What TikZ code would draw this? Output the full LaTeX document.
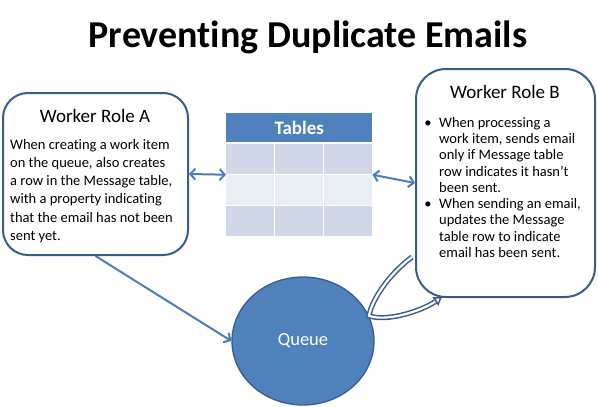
\documentclass[tikz,border=0pt]{standalone}
\usepackage{fontspec}
\setmainfont{Carlito}[Ligatures=NoCommon]
\usetikzlibrary{shapes.geometric}
\usetikzlibrary{arrows.meta}

\definecolor{boxline}{HTML}{385D8A}
\definecolor{linkblue}{HTML}{4A7EBB}
\definecolor{headblue}{HTML}{4F81BD}
\definecolor{rowdark}{HTML}{D0D8E8}
\definecolor{rowlight}{HTML}{E9EDF4}

\begin{document}
\begin{tikzpicture}[x=1pt,y=-1pt,
    rolebox/.style={draw=boxline, line width=2pt, fill=white, inner sep=0pt},
    rolehead/.style={font=\fontsize{19}{22}\selectfont, inner sep=0pt, anchor=base},
    link/.style={draw=linkblue, line width=2pt, >={Straight Barb[length=5pt,width=11pt]}}]
        \useasboundingbox (0,0) rectangle (598,407);
        \node[font=\bfseries\fontsize{38}{44}\selectfont, anchor=base, inner sep=0pt] (title) at (308,47) {Preventing Duplicate Emails};
        % worker boxes
        \node[rolebox, rounded corners=25pt, minimum width=185, minimum height=162] (roleA) at (95.5,174) {};
        \node[rolehead] (roleAhead) at (95,122) {Worker Role A};
        \node[align=left, inner sep=0pt, anchor=north west, font=\fontsize{14.5}{18.2}\selectfont] (roleAtext) at (10,139)
            {When creating a work item\\on the queue, also creates\\a row in the Message table,\\with a property indicating\\that the email has not been\\sent yet.};
        \node[rolebox, rounded corners=30pt, minimum width=179, minimum height=228] (roleB) at (505.5,183) {};
        \node[rolehead] (roleBhead) at (505,98) {Worker Role B};
        \node[align=left, inner sep=0pt, anchor=north west, font=\fontsize{14.5}{16.25}\selectfont] (roleBtext) at (439,117)
            {When processing a\\work item, sends email\\only if Message table\\row indicates it hasn't\\been sent.\\When sending an email,\\updates the Message\\table row to indicate\\email has been sent.};
        \node[anchor=base, inner sep=0pt, font=\fontsize{14.5}{16.25}\selectfont] (bulletone) at (428,127) {\textbullet};
        \node[anchor=base, inner sep=0pt, font=\fontsize{14.5}{16.25}\selectfont] (bullettwo) at (428,208.25) {\textbullet};
        % table
        \node[fill=headblue, text=white, font=\bfseries\fontsize{19}{22}\selectfont, minimum width=146, minimum height=29, anchor=north west, inner sep=0pt] (tblhead) at (226,113) {Tables};
        \foreach \r/\c in {0/rowdark,1/rowlight,2/rowdark}
            \foreach \k in {0,1,2}
                \fill[\c] (226+\k*49,143.5+\r*31) rectangle +(48,30);
        \node[inner sep=0pt, minimum width=146, minimum height=123, anchor=north west] (tables) at (226,113) {};
        % queue
        \node[ellipse, fill=headblue, draw=boxline, line width=1.3pt, minimum width=142, minimum height=128, inner sep=0pt, text=white, font=\fontsize{18.5}{22}\selectfont] (queue) at (303,341) {Queue};
        % links
        \draw[link,<->] (roleA.east) -- (tables.west);
        \draw[link,<->] (tables.east) -- (roleB.west);
        \draw[link,->] (roleA.south) -- (queue.west);
        \coordinate (loopstart) at (412,257);
        \coordinate (looptip) at (442,297);
        \draw[draw=boxline, line width=1.5pt, double=white, double distance=2.2pt, -{Triangle[open,length=8pt,width=10pt]}]
            (loopstart) .. controls (388,275) and (372,300) .. (queue.21)
            .. controls (385,322) and (420,312) .. (looptip);
    \end{tikzpicture}
\end{document}
